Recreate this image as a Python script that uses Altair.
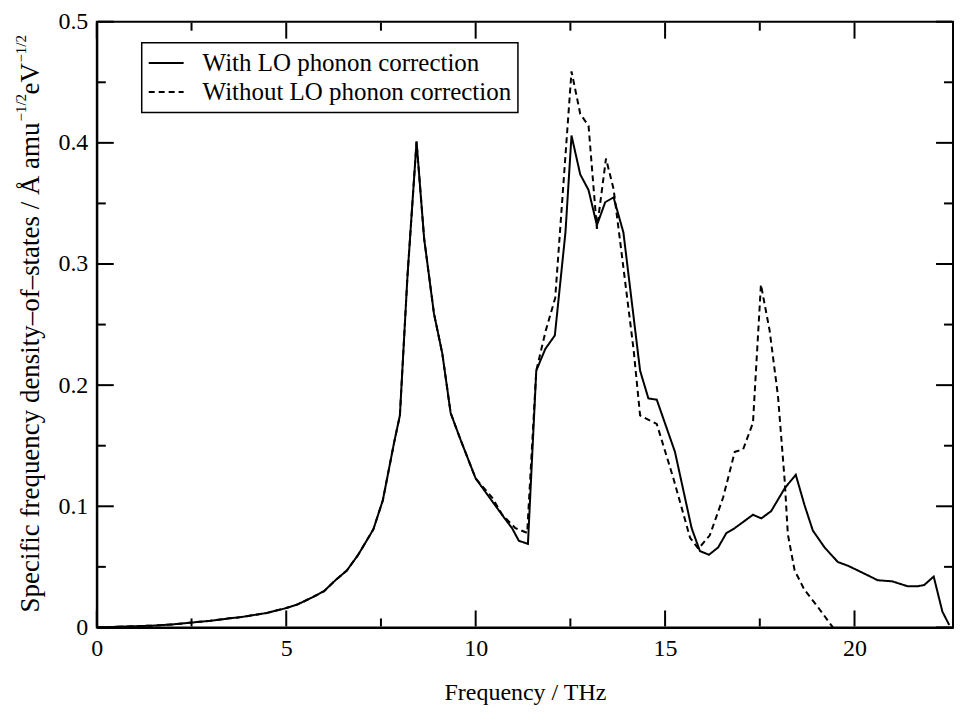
import altair as alt
import pandas as pd

# ---- data ----
# part shared by both curves (they coincide below ~10 THz)
freq_common = [0.0, 0.5, 1.0, 1.5, 2.0, 2.5, 3.0, 3.5, 3.8, 4.0, 4.5, 5.0, 5.3, 5.7, 6.0,
               6.3, 6.6, 6.9, 7.3, 7.55, 7.85, 8.0, 8.2, 8.44, 8.64, 8.9, 9.12, 9.34, 9.6, 10.0]
dos_common = [0.0, 0.0005, 0.001, 0.0015, 0.0025, 0.004, 0.0055, 0.0075, 0.0085, 0.0095, 0.012,
              0.016, 0.019, 0.025, 0.03, 0.039, 0.047, 0.06, 0.081, 0.105, 0.153, 0.175, 0.29,
              0.401, 0.321, 0.259, 0.226, 0.177, 0.155, 0.123]

freq_with = [10.44, 10.79, 10.96, 11.14, 11.38, 11.6, 11.84, 12.09, 12.37, 12.53, 12.76, 12.98,
             13.2, 13.42, 13.64, 13.9, 14.34, 14.56, 14.78, 15.26, 15.7, 15.92, 16.16, 16.4,
             16.62, 16.84, 17.32, 17.54, 17.8, 18.16, 18.45, 18.68, 18.9, 19.21, 19.56, 19.82,
             20.09, 20.61, 21.0, 21.4, 21.67, 21.84, 22.09, 22.32, 22.5]
dos_with = [0.104, 0.089, 0.082, 0.0715, 0.069, 0.212, 0.23, 0.241, 0.326, 0.406, 0.374, 0.361,
            0.332, 0.351, 0.355, 0.326, 0.212, 0.189, 0.188, 0.145, 0.082, 0.063, 0.06, 0.066,
            0.078, 0.082, 0.093, 0.09, 0.096, 0.115, 0.126, 0.101, 0.08, 0.066, 0.054, 0.051,
            0.047, 0.039, 0.038, 0.034, 0.034, 0.035, 0.042, 0.013, 0.002]

freq_without = [10.44, 10.7, 11.05, 11.36, 11.6, 11.85, 12.1, 12.53, 12.76, 12.98, 13.2, 13.44,
                13.64, 13.86, 14.17, 14.34, 14.78, 15.22, 15.66, 15.88, 16.18, 16.53, 16.84,
                17.06, 17.32, 17.53, 17.76, 17.98, 18.16, 18.24, 18.42, 18.68, 19.03, 19.43]
dos_without = [0.107, 0.093, 0.082, 0.078, 0.212, 0.245, 0.272, 0.459, 0.424, 0.414, 0.329,
               0.387, 0.362, 0.307, 0.229, 0.175, 0.168, 0.123, 0.074, 0.065, 0.076, 0.107,
               0.145, 0.147, 0.169, 0.283, 0.245, 0.191, 0.12, 0.077, 0.047, 0.031, 0.017, 0.0]

series_names = ["With LO phonon correction", "Without LO phonon correction"]

x_major = [0, 5, 10, 15, 20]
x_minor = [2.5, 7.5, 12.5, 17.5]
y_major = [0, 0.1, 0.2, 0.3, 0.4, 0.5]
y_minor = [0.05, 0.15, 0.25, 0.35, 0.45]

x_title = "Frequency / THz"
y_title_main = "Specific frequency density\u2013of\u2013states / \u00c5 amu"
y_title_sup = "\u22121/2"
y_title_unit = "eV"

# ---- build tables ----
rows = []
for f, d in zip(freq_common + freq_with, dos_common + dos_with):
    rows.append({"freq": f, "dos": d, "series": series_names[0]})
for f, d in zip(freq_common + freq_without, dos_common + dos_without):
    rows.append({"freq": f, "dos": d, "series": series_names[1]})
df = pd.DataFrame(rows)

TOP = 21  # page y of the plot top
W, H = 858, 628 - TOP
FONT = "Liberation Serif"

xscale = alt.Scale(domain=[0, 22.6], nice=False, zero=False)
yscale = alt.Scale(domain=[0, 0.5], nice=False)
xaxis = alt.Axis(values=x_major, format="d", title=x_title, labelPadding=9,
                 titlePadding=20, labelFlush=False)
yaxis = alt.Axis(values=y_major, format=".1~f", title="", labelPadding=9, labelFlush=False)

lines = alt.Chart(df).mark_line(strokeWidth=2, color="black").encode(
    x=alt.X("freq:Q", scale=xscale, axis=xaxis),
    y=alt.Y("dos:Q", scale=yscale, axis=yaxis),
    strokeDash=alt.StrokeDash(
        "series:N",
        scale=alt.Scale(domain=series_names, range=[[1, 0], [6, 4]]),
        legend=alt.Legend(
            title=None, orient="none", legendX=45, legendY=42 - TOP,
            strokeColor="black", fillColor="white", padding=6,
            labelFont=FONT, labelFontSize=25, labelColor="black", labelLimit=0,
            symbolType="stroke", symbolSize=1225, symbolStrokeWidth=2,
            symbolStrokeColor="black", labelOffset=18, clipHeight=29, rowPadding=0,
        ),
    ),
)


def xticks(vals, length, top):
    d = pd.DataFrame({"t": vals})
    y0 = 1 if top else H - 1
    y1 = length if top else H - length
    return alt.Chart(d).mark_rule(color="black", strokeWidth=2).encode(
        x=alt.X("t:Q", scale=xscale, axis=xaxis),
        y=alt.value(y0), y2=alt.value(y1))


def yticks(vals, length, right):
    d = pd.DataFrame({"t": vals})
    x0 = W - 1 if right else 1
    x1 = W - length if right else length
    return alt.Chart(d).mark_rule(color="black", strokeWidth=2).encode(
        y=alt.Y("t:Q", scale=yscale, axis=yaxis),
        x=alt.value(x0), x2=alt.value(x1))


ticks = [
    xticks(x_major, 17, False), xticks(x_minor, 9, False),
    xticks(x_major, 17, True), xticks(x_minor, 9, True),
    yticks(y_major, 17, False), yticks(y_minor, 9, False),
    yticks(y_major, 17, True), yticks(y_minor, 9, True),
]

one = alt.Data(values=[{"a": 1}])
BASE_X = -58
title_parts = [
    alt.Chart(one).mark_text(angle=270, align="right", baseline="alphabetic", font=FONT,
                             fontSize=27, color="black").encode(
        x=alt.value(BASE_X), y=alt.value(122 - TOP), text=alt.value(y_title_main)),
    alt.Chart(one).mark_text(angle=270, align="left", baseline="alphabetic", font=FONT,
                             fontSize=15, color="black").encode(
        x=alt.value(BASE_X - 13), y=alt.value(121 - TOP), text=alt.value(y_title_sup)),
    alt.Chart(one).mark_text(angle=270, align="left", baseline="alphabetic", font=FONT,
                             fontSize=27, color="black").encode(
        x=alt.value(BASE_X), y=alt.value(94 - TOP), text=alt.value(y_title_unit)),
    alt.Chart(one).mark_text(angle=270, align="left", baseline="alphabetic", font=FONT,
                             fontSize=15, color="black").encode(
        x=alt.value(BASE_X - 13), y=alt.value(62 - TOP), text=alt.value(y_title_sup)),
]

chart = alt.layer(*ticks, lines, *title_parts).properties(
    width=W, height=H,
    autosize=alt.AutoSizeParams(type="none"),
    padding={"left": 89, "top": TOP - 8, "right": 5, "bottom": 80},
    background="white",
).configure_view(
    stroke="black", strokeWidth=2
).configure_axis(
    domainColor="black", domainWidth=2, ticks=False, tickSize=0, grid=False,
    labelFont=FONT, labelFontSize=24, labelColor="black",
    titleFont=FONT, titleFontSize=24, titleColor="black", titleFontWeight="normal",
).configure_legend(
    strokeWidth=1.5, cornerRadius=0
)

chart.save("out.html", embed_options={"renderer": "svg", "actions": False})
